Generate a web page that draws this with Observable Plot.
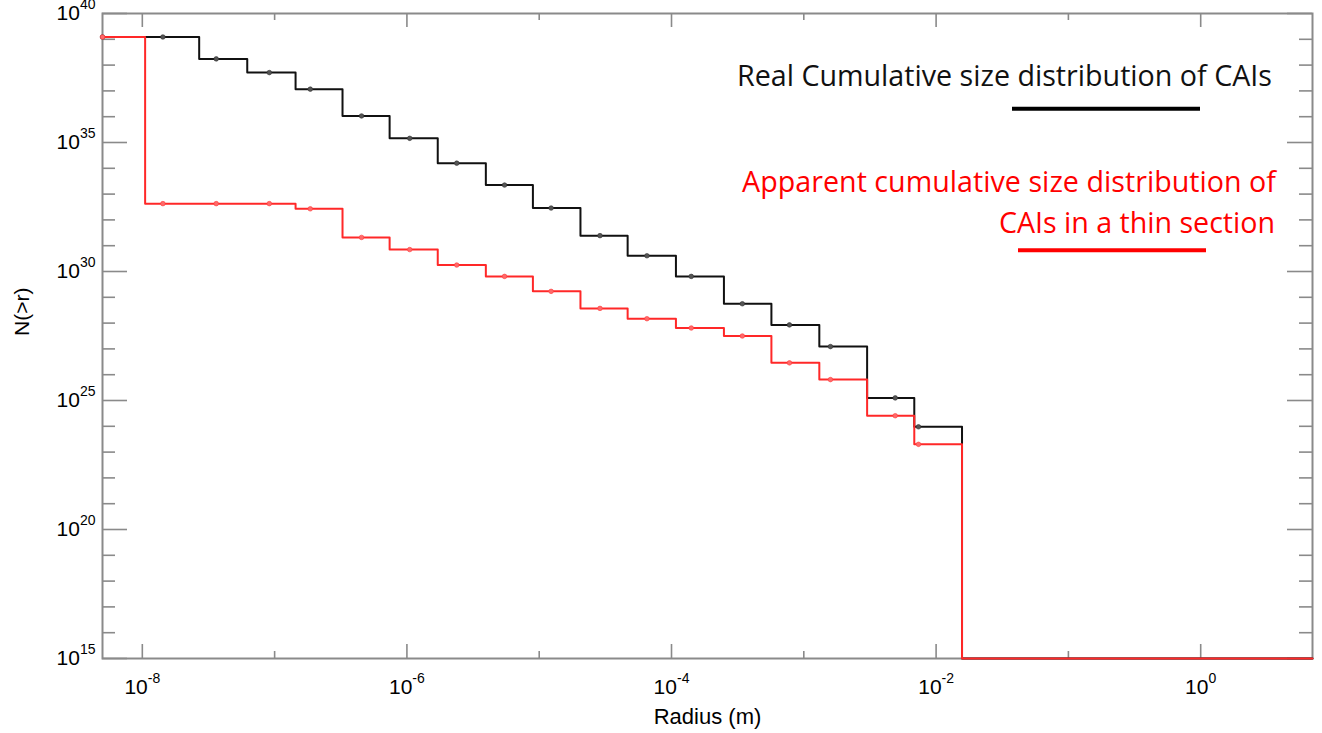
<!DOCTYPE html>
<html>
<head>
<meta charset="utf-8">
<script src="https://cdn.jsdelivr.net/npm/d3@7"></script>
<script src="https://cdn.jsdelivr.net/npm/@observablehq/plot@0.6"></script>
<style>
  html, body { margin: 0; padding: 0; background: #fff; }
  #chart { width: 1322px; height: 733px; position: relative; }
</style>
</head>
<body>
<div id="chart"></div>
<script>
// ---- Data ----
const xDomain = [5e-9, 7];          // Radius (m)
const yDomain = [1e15, 1e40];       // N(>r)
const floorN = 1e15;

// step edges (radius, m) between histogram bins
const stepEdges = [1.05e-8, 2.69e-8, 6.21e-8, 1.44e-7, 3.26e-7, 7.40e-7, 1.71e-6, 3.95e-6,
  8.96e-6, 2.05e-5, 4.66e-5, 1.08e-4, 2.49e-4, 5.69e-4, 1.31e-3, 3.01e-3, 6.84e-3, 1.57e-2];

// sample radii (dots)
const sampleRadius = [5e-9, 1.43e-8, 3.62e-8, 9.12e-8, 1.86e-7, 4.54e-7, 1.05e-6, 2.38e-6,
  5.47e-6, 1.23e-5, 2.88e-5, 6.52e-5, 1.41e-4, 3.43e-4, 7.79e-4, 1.59e-3, 4.91e-3, 7.36e-3];

// Real cumulative size distribution of CAIs
const realN = [1.23e39, 1.23e39, 1.74e38, 5.13e37, 1.17e37, 1.07e36, 1.45e35, 1.58e34,
  2.24e33, 2.88e32, 2.45e31, 4.07e30, 6.46e29, 5.62e28, 8.51e27, 1.23e27, 1.26e25, 9.55e23];

// Apparent cumulative size distribution of CAIs in a thin section
const apparentN = [1.23e39, 4.27e32, 4.27e32, 4.27e32, 2.69e32, 2.09e31, 7.08e30, 1.78e30,
  6.46e29, 1.70e29, 3.72e28, 1.48e28, 6.46e27, 3.16e27, 2.88e26, 6.46e25, 2.57e24, 2.00e23];

const xMajorTicks = [1e-8, 1e-6, 1e-4, 1e-2, 1];
const xMinorTicks = [1e-7, 1e-5, 1e-3, 1e-1];
const yMajorTicks = [1e15, 1e20, 1e25, 1e30, 1e35, 1e40];
const yMinorTicks = [16,17,18,19,21,22,23,24,26,27,28,29,31,32,33,34,36,37,38,39].map(e => Math.pow(10, e));

const legendReal = "Real Cumulative size distribution of CAIs";
const legendApparentLines = ["Apparent cumulative size distribution of", "CAIs in a thin section"];
const xLabel = "Radius (m)";
const yLabel = "N(>r)";

// ---- Layout ----
const W = 1322, H = 733;
const mL = 102, mR = 10, mT = 13, mB = 75;
const fw = W - mL - mR, fh = H - mT - mB;
const gray = "#8a8a8a";

function steps(levels) {
  const xs = [xDomain[0], ...stepEdges, xDomain[1]];
  const ys = [...levels, floorN, floorN];
  return xs.map((x, i) => ({x, y: ys[i]}));
}
const dots = (levels) => sampleRadius.map((r, i) => ({x: r, y: levels[i]}));
const pow10 = d => "10^" + Math.round(Math.log10(d));

const chart = Plot.plot({
  width: W, height: H,
  marginLeft: mL, marginRight: mR, marginTop: mT, marginBottom: mB,
  style: {fontFamily: "'Liberation Sans', Arial, Helvetica, sans-serif", background: "#fff", color: "#000", fontSize: "20px", overflow: "visible"},
  x: {type: "log", domain: xDomain},
  y: {type: "log", domain: yDomain},
  marks: [
    // inward ticks, bottom & top
    Plot.tickX(xMajorTicks, {x: d => d, stroke: gray, strokeWidth: 1.6, insetTop: fh - 14}),
    Plot.tickX(xMinorTicks, {x: d => d, stroke: gray, strokeWidth: 1.6, insetTop: fh - 7}),
    Plot.tickX(xMajorTicks, {x: d => d, stroke: gray, strokeWidth: 1.6, insetBottom: fh - 14}),
    Plot.tickX(xMinorTicks, {x: d => d, stroke: gray, strokeWidth: 1.6, insetBottom: fh - 7}),
    // inward ticks, left & right
    Plot.tickY(yMajorTicks, {y: d => d, stroke: gray, strokeWidth: 1.6, insetRight: fw - 25}),
    Plot.tickY(yMinorTicks, {y: d => d, stroke: gray, strokeWidth: 1.6, insetRight: fw - 13}),
    Plot.tickY(yMajorTicks, {y: d => d, stroke: gray, strokeWidth: 1.6, insetLeft: fw - 25}),
    Plot.tickY(yMinorTicks, {y: d => d, stroke: gray, strokeWidth: 1.6, insetLeft: fw - 13}),
    Plot.frame({stroke: gray, strokeWidth: 2}),
    Plot.axisX({ticks: xMajorTicks, tickSize: 0, tickPadding: 21, tickFormat: pow10, fontSize: 21, label: null}),
    Plot.axisY({ticks: yMajorTicks, tickSize: 0, tickPadding: 7, tickFormat: pow10, fontSize: 21, label: null}),
    Plot.text([xLabel], {frameAnchor: "bottom", dy: 65, lineAnchor: "bottom", fontSize: 22, text: d => d}),
    Plot.text([yLabel], {frameAnchor: "left", dx: -80, rotate: -90, fontSize: 21, text: d => d}),
    // real distribution (black)
    Plot.line(steps(realN), {x: "x", y: "y", curve: "step-after", stroke: "#111", strokeWidth: 2}),
    Plot.dot(dots(realN), {x: "x", y: "y", r: 2.3, fill: "#555", stroke: "#333", strokeWidth: 0.6}),
    // apparent distribution (red)
    Plot.line(steps(apparentN), {x: "x", y: "y", curve: "step-after", stroke: "#ff2828", strokeWidth: 2}),
    Plot.dot(dots(apparentN), {x: "x", y: "y", r: 2.3, fill: "#ff6a6a", stroke: "#ff3a3a", strokeWidth: 0.6})
  ]
});

// superscript exponents for tick labels
d3.select(chart).selectAll("text").each(function() {
  const t = this.textContent;
  const m = /^10\^(-?\d+)$/.exec(t);
  if (!m) return;
  const sel = d3.select(this);
  sel.text("").style("font-size", "21px");
  sel.append("tspan").text("10");
  sel.append("tspan").attr("dy", -11).style("font-size", "14px").text(m[1]);
});

// legend annotation
const svg = d3.select(chart);
const lg = svg.append("g").attr("font-family", "'Open Sans', Lato, sans-serif").attr("text-anchor", "end");
const legendTexts = [
  {s: legendReal, x: 1272, y: 86, w: 535, fill: "#111"},
  {s: legendApparentLines[0], x: 1276, y: 192, w: 534, fill: "#ff0000"},
  {s: legendApparentLines[1], x: 1275, y: 233, w: 276, fill: "#ff0000"}
];
const nodes = legendTexts.map(d => lg.append("text").attr("x", d.x).attr("y", d.y)
  .style("font-size", "26px").attr("fill", d.fill).text(d.s));
lg.append("line").attr("x1", 1012).attr("x2", 1200).attr("y1", 108.7).attr("y2", 108.7)
  .attr("stroke", "#000").attr("stroke-width", 4);
lg.append("line").attr("x1", 1018).attr("x2", 1206).attr("y1", 250.3).attr("y2", 250.3)
  .attr("stroke", "#ff0000").attr("stroke-width", 4);

document.getElementById("chart").appendChild(chart);

// fit the legend font so its lines have the reference widths
const scales = nodes.map((n, i) => legendTexts[i].w / n.node().getComputedTextLength());
const k = d3.mean(scales);
nodes.forEach((n, i) => {
  n.style("font-size", (26 * k).toFixed(2) + "px")
   .attr("textLength", legendTexts[i].w).attr("lengthAdjust", "spacing");
});
</script>
</body>
</html>
